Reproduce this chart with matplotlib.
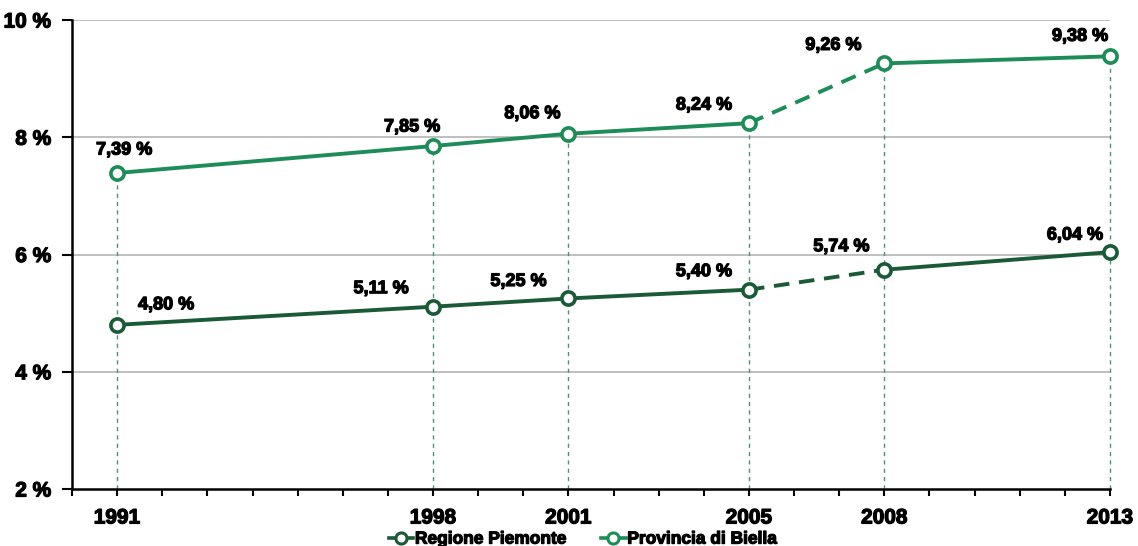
import matplotlib
matplotlib.use("Agg")
import matplotlib.pyplot as plt
from matplotlib.lines import Line2D
import matplotlib.patheffects as pe

years = [1991, 1998, 2001, 2005, 2008, 2013]
piemonte = [4.80, 5.11, 5.25, 5.40, 5.74, 6.04]
biella = [7.39, 7.85, 8.06, 8.24, 9.26, 9.38]
year_labels = ["1991", "1998", "2001", "2005", "2008", "2013"]
y_ticks = [2, 4, 6, 8, 10]
series_names = ["Regione Piemonte", "Provincia di Biella"]

c_dark = "#1b5a36"
c_light = "#1e8c58"

plt.rcParams['font.family'] = ['Liberation Sans', 'DejaVu Sans']
heavy = [pe.withStroke(linewidth=0.9, foreground="black")]

fig = plt.figure(figsize=(11.38, 5.46), dpi=100)
ax = fig.add_axes([72/1138, 1-489/546, (1110-72)/1138, (489-20)/546])

ax.set_xlim(1990, 2013)
ax.set_ylim(2, 10)

# grid
for yv in y_ticks[1:]:
    ax.axhline(yv, color="#b4b4b4", lw=1.2, zorder=1)

# vertical dashed drop lines
for x, yb in zip(years, biella):
    ax.plot([x, x], [2, yb], color="#4f8f7c", lw=1, ls=(0, (3, 3)), zorder=2, clip_on=False)

def draw(vals, color):
    i05 = years.index(2005)
    i08 = years.index(2008)
    kw = dict(color=color, lw=2.8, zorder=3, clip_on=False)
    ax.plot(years[:i05+1], vals[:i05+1], **kw)
    ax.plot(years[i05:i08+1], vals[i05:i08+1], ls=(0, (4, 2.5)), **kw)
    ax.plot(years[i08:], vals[i08:], **kw)
    ax.plot(years, vals, ls="none", marker="o", ms=9.5, mfc="white", mec=color, mew=2.6,
            zorder=4, clip_on=False)

draw(piemonte, c_dark)
draw(biella, c_light)

def fmt(v):
    return f"{v:.2f}".replace(".", ",") + " %"

off_b = [(7, 23), (-21, 19), (-36, 20), (-45, 18), (-51, 18), (-30, 20)]
off_p = [(49, 20), (-52, 18), (-50, 17), (-45, 18), (-43, 23), (-35, 17)]
for vals, offs in ((biella, off_b), (piemonte, off_p)):
    for x, v, o in zip(years, vals, offs):
        ax.annotate(fmt(v), (x, v), xytext=o, textcoords="offset pixels", ha="center", va="center",
                    fontsize=13, fontweight="bold", color="black", zorder=5, path_effects=heavy,
                    annotation_clip=False)

ax.set_yticks(y_ticks)
ax.set_yticklabels([f"{t} %" for t in y_ticks], fontsize=15, fontweight="bold")
ax.set_xticks(years)
ax.set_xticklabels(year_labels, fontsize=15, fontweight="bold")
ax.set_xticks(range(1990, 2014), minor=True)
ax.tick_params(axis="x", which="both", direction="out", length=5, width=1.5, pad=9)
ax.tick_params(axis="y", direction="out", length=7, width=1.5, pad=8)
for lab in ax.get_xticklabels() + ax.get_yticklabels():
    lab.set_path_effects(heavy)

for s in ["top", "right"]:
    ax.spines[s].set_visible(False)
for s in ["left", "bottom"]:
    ax.spines[s].set_linewidth(1.8)
    ax.spines[s].set_color("black")

handles = [
    Line2D([0], [0], color=c_dark, lw=2.6, marker="o", ms=8, mfc="white", mec=c_dark, mew=2.2),
    Line2D([0], [0], color=c_light, lw=2.6, marker="o", ms=8, mfc="white", mec=c_light, mew=2.2),
]
leg = fig.legend(handles, series_names, loc="center", bbox_to_anchor=(583/1138, 1-539/546), ncol=2,
                 frameon=False, handlelength=1.4, handletextpad=0.1, columnspacing=2.0,
                 prop={"weight": "bold", "size": 12.5})
for t in leg.get_texts():
    t.set_path_effects(heavy)

fig.savefig("out.png", dpi=100)
